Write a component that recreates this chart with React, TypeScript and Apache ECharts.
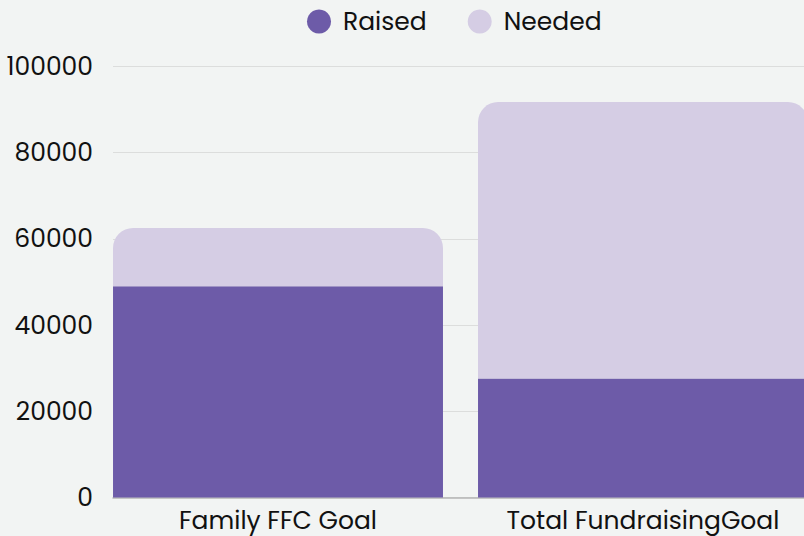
import React, { useEffect, useRef } from "react";
import * as echarts from "echarts";

const categories = ["Family FFC Goal", "Total FundraisingGoal"];
const raised = [49000, 27600];
const needed = [13500, 64100];
const yTicks = [0, 20000, 40000, 60000, 80000, 100000];

const FONT = "Poppins, 'Open Sans', sans-serif";

export default function App() {
  const ref = useRef<HTMLDivElement>(null);
  useEffect(() => {
    if (!ref.current) return;
    const chart = echarts.init(ref.current, null, { renderer: "svg" });
    const yMax = yTicks[yTicks.length - 1];
    const yInterval = yTicks[1] - yTicks[0];
    chart.setOption({
      animation: false,
      backgroundColor: "#f2f4f3",
      textStyle: { fontFamily: FONT },
      legend: {
        left: 302,
        top: 4,
        icon: "circle",
        itemWidth: 24,
        itemHeight: 24,
        itemGap: 41,
        textStyle: { fontSize: 25, color: "#111", fontFamily: FONT, padding: [0, 0, 0, 7] },
        data: ["Raised", "Needed"],
      },
      grid: [
        { left: 95.5, width: 730, top: 66.3, bottom: 38.5, outerBoundsMode: "none", containLabel: false },
        { left: 113, right: 0, top: 66.3, bottom: 38.5, outerBoundsMode: "none", containLabel: false },
      ],
      xAxis: [
        {
          type: "category",
          gridIndex: 0,
          data: categories,
          axisLine: { show: false },
          axisTick: { show: false },
          axisLabel: { fontSize: 25, color: "#111", margin: 10, fontFamily: FONT, interval: 0 },
        },
        {
          type: "category",
          gridIndex: 1,
          data: categories,
          axisLine: { show: true, lineStyle: { color: "#b5b5b5", width: 1.5 } },
          axisTick: { show: false },
          axisLabel: { show: false },
        },
      ],
      yAxis: [
        {
          type: "value",
          gridIndex: 0,
          min: 0,
          max: yMax,
          interval: yInterval,
          show: false,
          splitLine: { show: false },
        },
        {
          type: "value",
          gridIndex: 1,
          min: 0,
          max: yMax,
          interval: yInterval,
          axisLine: { show: false },
          axisTick: { show: false },
          axisLabel: {
            fontSize: 25,
            color: "#111",
            margin: 20,
            fontFamily: FONT,
            formatter: (v: number) => String(v),
          },
          splitLine: { show: true, lineStyle: { color: "#dcdddc", width: 1 } },
        },
      ],
      series: [
        {
          name: "Raised",
          type: "bar",
          stack: "total",
          xAxisIndex: 0,
          yAxisIndex: 0,
          data: raised,
          barCategoryGap: "9.6%",
          itemStyle: { color: "#6d5ba8" },
        },
        {
          name: "Needed",
          type: "bar",
          stack: "total",
          xAxisIndex: 0,
          yAxisIndex: 0,
          data: needed,
          barCategoryGap: "9.6%",
          itemStyle: { color: "#d5cde4", borderRadius: [20, 20, 0, 0] },
        },
      ],
    });
    return () => chart.dispose();
  }, []);
  return (
    <div
      ref={ref}
      style={{ position: "fixed", left: 0, top: 0, width: 804, height: 536 }}
    />
  );
}
